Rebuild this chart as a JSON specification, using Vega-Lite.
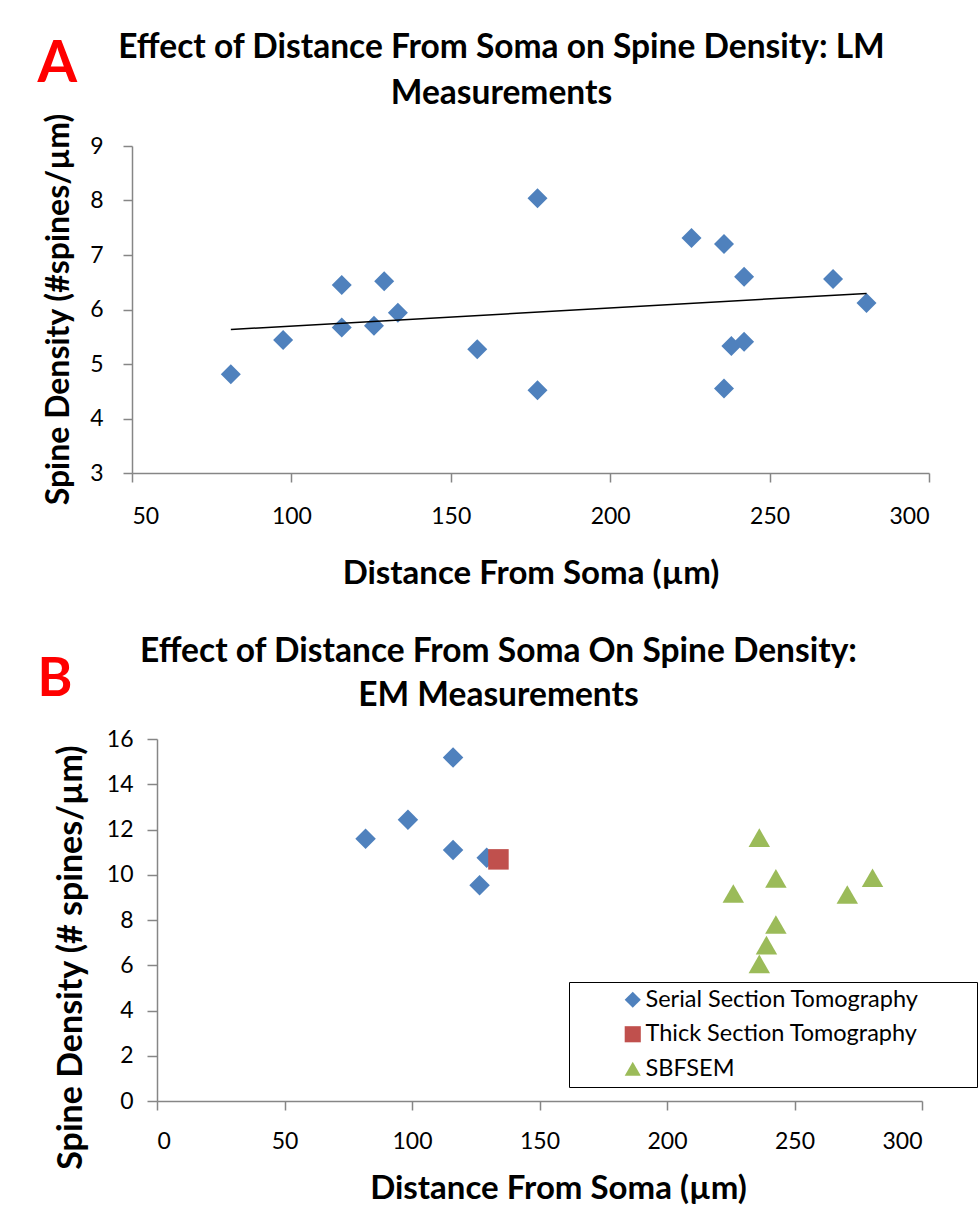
{
  "$schema": "https://vega.github.io/schema/vega-lite/v6.json",
  "background": "white",
  "padding": {"left": 36, "top": 30, "right": 0, "bottom": 0},
  "columns": 1,
  "align": "none",
  "spacing": 44,
  "resolve": {"scale": {"color": "independent", "shape": "independent"}},
  "config": {
    "view": {"stroke": null},
    "axis": {
      "grid": false,
      "domainColor": "#868686",
      "domainWidth": 1.5,
      "tickColor": "#868686",
      "tickWidth": 1.5,
      "labelFont": "Lato",
      "labelFontSize": 23,
      "labelColor": "black",
      "titleFont": "Lato",
      "titleFontSize": 33,
      "titleFontWeight": "bold",
      "titleColor": "black"
    },
    "title": {"font": "Lato", "fontSize": 33.5, "fontWeight": "bold", "color": "black"}
  },
  "concat": [
    {
      "spacing": 0,
      "hconcat": [
        {"width": 1, "height": 1, "data": {"values": []}, "mark": {"type": "point", "opacity": 0}},
        {
          "width": 797,
          "height": 327,
          "title": {
            "text": ["Effect of Distance From Soma on Spine Density: LM", "Measurements"],
            "lineHeight": 46,
            "anchor": "middle",
            "frame": "group",
            "baseline": "alphabetic",
            "offset": 0,
            "dx": -29,
            "dy": 102
          },
          "data": {
            "values": [
              {"distance": 81, "density": 4.81},
              {"distance": 97.4, "density": 5.44},
              {"distance": 115.8, "density": 6.45},
              {"distance": 115.8, "density": 5.67},
              {"distance": 129.1, "density": 6.52},
              {"distance": 125.9, "density": 5.7},
              {"distance": 133.4, "density": 5.94},
              {"distance": 158.3, "density": 5.27},
              {"distance": 177.2, "density": 8.04},
              {"distance": 177.2, "density": 4.52},
              {"distance": 225.5, "density": 7.31},
              {"distance": 235.7, "density": 7.2},
              {"distance": 242, "density": 6.6},
              {"distance": 269.9, "density": 6.56},
              {"distance": 280.4, "density": 6.12},
              {"distance": 238, "density": 5.33},
              {"distance": 242, "density": 5.41},
              {"distance": 235.7, "density": 4.55}
            ]
          },
          "layer": [
            {
              "mark": {"type": "point", "shape": "diamond", "filled": true, "size": 400, "color": "#4F81BD", "opacity": 1},
              "encoding": {
                "x": {
                  "field": "distance", "type": "quantitative",
                  "scale": {"domain": [50, 300], "nice": false, "zero": false},
                  "axis": {
                    "orient": "bottom",
                    "values": [50, 100, 150, 200, 250, 300],
                    "format": "d",
                    "tickSize": 9,
                    "labelPadding": 23,
                    "title": "Distance From Soma (µm)",
                    "titleBaseline": "alphabetic",
                    "titleY": 110
                  }
                },
                "y": {
                  "field": "density", "type": "quantitative",
                  "scale": {"domain": [3, 9], "nice": false, "zero": false},
                  "axis": {
                    "values": [3, 4, 5, 6, 7, 8, 9],
                    "format": "d",
                    "tickSize": 9,
                    "labelPadding": 20,
                    "title": "Spine Density (#spines/µm)",
                    "titleFontSize": 32,
                    "titleAngle": 270,
                    "titleAlign": "center",
                    "titleBaseline": "alphabetic",
                    "titleX": -64,
                    "titleY": 163
                  }
                }
              }
            },
            {
              "transform": [{"regression": "density", "on": "distance"}],
              "mark": {"type": "line", "color": "black", "strokeWidth": 1.5},
              "encoding": {
                "x": {
                  "field": "distance", "type": "quantitative",
                  "axis": {
                    "orient": "top", "labels": false, "ticks": false, "domain": false,
                    "title": "A", "titleColor": "#FF0000", "titleFont": "Lato",
                    "titleFontSize": 57, "titleFontWeight": "bold", "titleAngle": 0,
                    "titleAlign": "left", "titleBaseline": "alphabetic",
                    "titleX": -95, "titleY": -65
                  }
                },
                "y": {"field": "density", "type": "quantitative"}
              }
            }
          ],
          "resolve": {"axis": {"x": "independent"}}
        }
      ]
    },
    {
      "spacing": 0,
      "resolve": {"scale": {"color": "independent", "shape": "independent"}},
      "hconcat": [
        {"width": 1, "height": 1, "data": {"values": []}, "mark": {"type": "point", "opacity": 0}},
        {
          "width": 765,
          "height": 362,
          "title": {
            "text": ["Effect of Distance From Soma On Spine Density:", "EM Measurements"],
            "lineHeight": 44,
            "anchor": "middle",
            "frame": "group",
            "baseline": "alphabetic",
            "offset": 0,
            "dx": -41,
            "dy": 86
          },
          "data": {
            "values": [
              {"method": "Serial Section Tomography", "distance": 81.8, "density": 11.59},
              {"method": "Serial Section Tomography", "distance": 98.4, "density": 12.43},
              {"method": "Serial Section Tomography", "distance": 116.1, "density": 15.18},
              {"method": "Serial Section Tomography", "distance": 116.1, "density": 11.09},
              {"method": "Serial Section Tomography", "distance": 126.5, "density": 9.54},
              {"method": "Serial Section Tomography", "distance": 129.3, "density": 10.75},
              {"method": "Thick Section Tomography", "distance": 133.9, "density": 10.68},
              {"method": "SBFSEM", "distance": 236.2, "density": 11.64},
              {"method": "SBFSEM", "distance": 242.7, "density": 9.84},
              {"method": "SBFSEM", "distance": 226, "density": 9.17},
              {"method": "SBFSEM", "distance": 270.7, "density": 9.13},
              {"method": "SBFSEM", "distance": 280.6, "density": 9.87},
              {"method": "SBFSEM", "distance": 242.7, "density": 7.8},
              {"method": "SBFSEM", "distance": 239, "density": 6.89},
              {"method": "SBFSEM", "distance": 236.2, "density": 6.06}
            ]
          },
          "layer": [
            {
              "transform": [{"filter": "datum.method !== 'SBFSEM'"}],
              "mark": {"type": "point", "filled": true, "size": 420, "opacity": 1},
              "encoding": {
                "x": {
                  "field": "distance", "type": "quantitative",
                  "scale": {"domain": [0, 300], "nice": false},
                  "axis": {
                    "orient": "bottom",
                    "values": [0, 50, 100, 150, 200, 250, 300],
                    "format": "d",
                    "tickSize": 9,
                    "labelPadding": 20,
                    "title": "Distance From Soma (µm)",
                    "titleBaseline": "alphabetic",
                    "titleX": 401,
                    "titleY": 97
                  }
                },
                "y": {
                  "field": "density", "type": "quantitative",
                  "scale": {"domain": [0, 16], "nice": false},
                  "axis": {
                    "values": [0, 2, 4, 6, 8, 10, 12, 14, 16],
                    "format": "d",
                    "tickSize": 10,
                    "labelPadding": 14,
                    "title": "Spine Density (# spines/µm)",
                    "titleFontSize": 34,
                    "titleAngle": 270,
                    "titleAlign": "center",
                    "titleBaseline": "alphabetic",
                    "titleX": -76,
                    "titleY": 218
                  }
                },
                "color": {
                  "field": "method", "type": "nominal",
                  "scale": {"domain": ["Serial Section Tomography", "Thick Section Tomography", "SBFSEM"], "range": ["#4F81BD", "#C0504D", "#9BBB59"]},
                  "legend": {
                    "title": " ", "titleOrient": "right", "titlePadding": 52,
                    "orient": "none", "legendX": 412, "legendY": 243,
                    "strokeColor": "black", "padding": 6, "symbolOffset": 46,
                    "labelFont": "Lato", "labelFontSize": 23.5, "labelColor": "black",
                    "labelOffset": 1, "rowPadding": 9.5, "symbolSize": 260, "symbolStrokeWidth": 0,
                    "labelLimit": 400
                  }
                },
                "shape": {
                  "field": "method", "type": "nominal",
                  "scale": {"domain": ["Serial Section Tomography", "Thick Section Tomography", "SBFSEM"], "range": ["diamond", "square", "triangle-up"]},
                  "legend": {
                    "title": " ", "titleOrient": "right", "titlePadding": 52,
                    "orient": "none", "legendX": 412, "legendY": 243,
                    "strokeColor": "black", "padding": 6, "symbolOffset": 46,
                    "labelFont": "Lato", "labelFontSize": 23.5, "labelColor": "black",
                    "labelOffset": 1, "rowPadding": 9.5, "symbolSize": 260, "symbolStrokeWidth": 0,
                    "labelLimit": 400
                  }
                }
              }
            },
            {
              "transform": [{"filter": "datum.method === 'SBFSEM'"}],
              "mark": {"type": "point", "filled": true, "size": 460, "opacity": 1},
              "encoding": {
                "x": {
                  "field": "distance", "type": "quantitative",
                  "axis": {
                    "orient": "top", "labels": false, "ticks": false, "domain": false,
                    "title": "B", "titleColor": "#FF0000", "titleFont": "Lato",
                    "titleFontSize": 53, "titleFontWeight": "bold", "titleAngle": 0,
                    "titleAlign": "left", "titleBaseline": "alphabetic",
                    "titleX": -120, "titleY": -44
                  }
                },
                "y": {"field": "density", "type": "quantitative"},
                "color": {"field": "method", "type": "nominal"},
                "shape": {"field": "method", "type": "nominal"}
              }
            }
          ],
          "resolve": {"axis": {"x": "independent"}}
        }
      ]
    }
  ]
}
